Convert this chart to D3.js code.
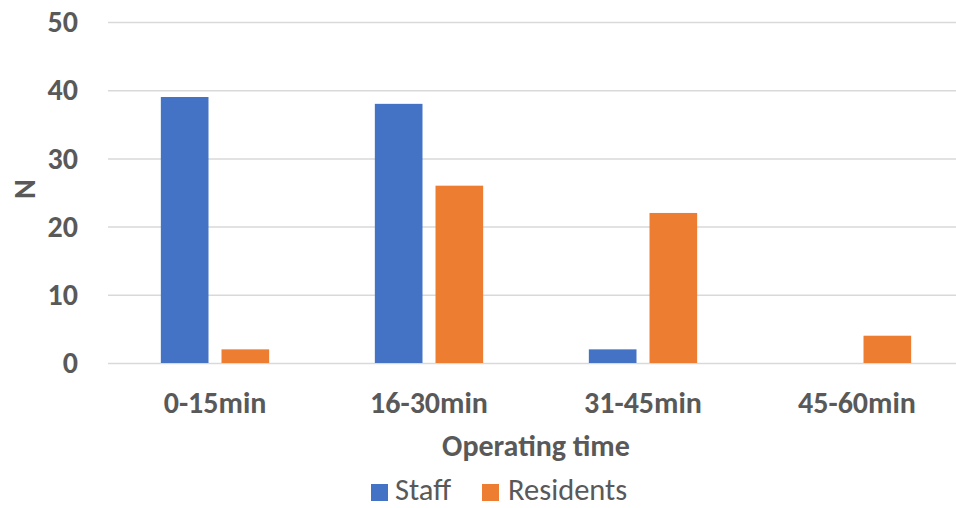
<!DOCTYPE html>
<html>
<head>
<meta charset="utf-8">
<script src="https://cdn.jsdelivr.net/npm/d3@7"></script>
<style>
  html, body { margin: 0; padding: 0; background: #fff; }
  svg { display: block; }
  text { font-family: Carlito, Lato, "Open Sans", sans-serif; fill: #595959; }
</style>
</head>
<body>
<script>
// Number of procedures per operating-time bracket
const categories = ["0-15min", "16-30min", "31-45min", "45-60min"];
const seriesNames = ["Staff", "Residents"];
const staffValues = [39, 38, 2, 0];
const residentValues = [2, 26, 22, 4];
const yTicks = [0, 10, 20, 30, 40, 50];
const colors = { Staff: "#4472C4", Residents: "#ED7D31" };

const W = 956, H = 508;
const plot = { left: 108, right: 964, top: 22, bottom: 363 };
const labelSize = "30px";

const svg = d3.select("body").append("svg")
  .attr("width", W).attr("height", H);

const y = d3.scaleLinear().domain([0, 50]).range([plot.bottom, plot.top]);
const x0 = d3.scaleBand().domain(categories).range([plot.left, plot.right]);
const x1 = d3.scaleBand().domain(seriesNames)
  .range([0, x0.bandwidth()])
  .paddingInner(0.2145).paddingOuter(0.871);

// Value axis with horizontal gridlines
const yAxis = svg.append("g")
  .attr("transform", `translate(${plot.left},0)`)
  .call(d3.axisLeft(y).tickValues(yTicks)
    .tickSize(-(plot.right - plot.left)).tickPadding(30));
yAxis.select(".domain").remove();
yAxis.selectAll(".tick line").attr("stroke", "#D9D9D9").attr("stroke-width", 1.5);
yAxis.selectAll(".tick text")
  .style("font-size", labelSize).style("font-weight", "bold").attr("fill", "#595959");

// Grouped bars
const rows = categories.map((c, i) => ({
  category: c,
  values: [
    { key: "Staff", value: staffValues[i] },
    { key: "Residents", value: residentValues[i] }
  ]
}));

svg.append("g").selectAll("g")
  .data(rows).join("g")
  .attr("transform", d => `translate(${x0(d.category)},0)`)
  .selectAll("rect")
  .data(d => d.values.filter(v => v.value > 0)).join("rect")
  .attr("x", d => x1(d.key))
  .attr("width", x1.bandwidth())
  .attr("y", d => y(d.value))
  .attr("height", d => y(0) - y(d.value))
  .attr("fill", d => colors[d.key]);

// Category axis labels
const xAxis = svg.append("g")
  .attr("transform", `translate(0,${plot.bottom})`)
  .call(d3.axisBottom(x0).tickSize(0).tickPadding(29));
xAxis.select(".domain").remove();
xAxis.selectAll(".tick text")
  .style("font-size", labelSize).style("font-weight", "bold").attr("fill", "#595959");

// Axis titles
svg.append("text")
  .attr("x", 536).attr("y", 456)
  .attr("text-anchor", "middle")
  .style("font-size", labelSize).style("font-weight", "bold")
  .text("Operating time");

svg.append("text")
  .attr("transform", "translate(35,189) rotate(-90)")
  .attr("text-anchor", "middle")
  .style("font-size", labelSize).style("font-weight", "bold")
  .text("N");

// Legend
const legendItems = [
  { key: "Staff", sx: 371, tx: 395 },
  { key: "Residents", sx: 482, tx: 508 }
];
const legend = svg.append("g");
legend.selectAll("rect").data(legendItems).join("rect")
  .attr("x", d => d.sx).attr("y", 484)
  .attr("width", 17).attr("height", 17)
  .attr("fill", d => colors[d.key]);
legend.selectAll("text").data(legendItems).join("text")
  .attr("x", d => d.tx).attr("y", 500)
  .style("font-size", "30.5px")
  .text(d => d.key);
</script>
</body>
</html>
